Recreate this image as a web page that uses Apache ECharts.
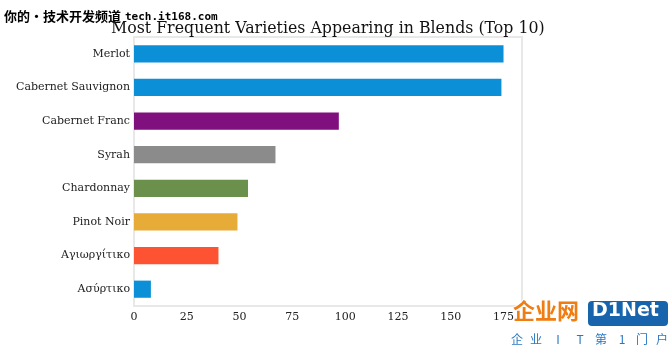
<!DOCTYPE html>
<html>
<head>
<meta charset="utf-8">
<script src="https://cdn.jsdelivr.net/npm/echarts@6/dist/echarts.min.js"></script>
<style>html,body{margin:0;padding:0;background:#fff}#c{width:670px;height:345px}</style>
</head>
<body>
<div id="c"></div>
<script>
const categories = ["Merlot", "Cabernet Sauvignon", "Cabernet Franc", "Syrah", "Chardonnay", "Pinot Noir", "Αγιωργίτικο", "Ασύρτικο"];
const values = [175, 174, 97, 67, 54, 49, 40, 8];
const barColors = ["#0b8fd7", "#0b8fd7", "#80107e", "#8b8b8b", "#6a904c", "#e7ab38", "#fd5333", "#0b8fd7"];
const xTicks = [0, 25, 50, 75, 100, 125, 150, 175];
const title = "Most Frequent Varieties Appearing in Blends (Top 10)";
const footChars = ["企", "业", "I", "T", "第", "1", "门", "户"];

const footX = [517, 536, 558, 580, 601, 622, 642, 662];
const chart = echarts.init(document.getElementById('c'), null, {renderer: 'canvas'});
const graphics = [
  {type: 'text', left: 3, top: 9, style: {text: '你的・技术开发频道', font: 'bold 13px "Noto Sans CJK SC"', fill: '#000', stroke: '#fff', lineWidth: 2}},
  {type: 'text', left: 124, top: 11, style: {text: 'tech.it168.com', font: 'bold 11px "DejaVu Sans Mono"', fill: '#000', stroke: '#fff', lineWidth: 2}},
  {type: 'text', left: 512, top: 299, style: {text: '企业网', font: 'bold 22px "Noto Sans CJK SC"', fill: '#f07d12', stroke: '#fff', lineWidth: 2}},
  {type: 'rect', shape: {x: 588, y: 301, width: 80, height: 25, r: 4}, style: {fill: '#1764ad'}},
  {type: 'text', left: 592, top: 302, style: {text: 'D1Net', font: 'bold 19px "DejaVu Sans"', fill: '#fff'}}
];
footChars.forEach((ch, i) => {
  graphics.push({type: 'text', x: footX[i], y: 339, style: {text: ch, font: '12px "Noto Sans CJK SC"', fill: '#2a78c2', textAlign: 'center', textVerticalAlign: 'middle'}});
});
chart.setOption({
  animation: false,
  title: {
    text: title,
    left: 106, top: 16,
    textStyle: {fontFamily: 'DejaVu Serif', fontSize: 15.8, fontWeight: 'normal', color: '#111'}
  },
  grid: {left: 134, right: 148, top: 37, bottom: 39, show: true, borderColor: '#e8e8e8', borderWidth: 2, containLabel: false},
  xAxis: {
    type: 'value', min: 0, max: 183.75, interval: 25,
    axisLine: {show: false}, axisTick: {show: false}, splitLine: {show: false},
    axisLabel: {
      margin: 6, fontFamily: 'DejaVu Serif', fontSize: 11, color: '#222',
      showMaxLabel: false,
      formatter: v => xTicks.includes(v) ? String(v) : ''
    }
  },
  yAxis: {
    type: 'category', data: categories, inverse: true,
    axisLine: {show: false}, axisTick: {show: false},
    axisLabel: {margin: 4, fontFamily: 'DejaVu Serif', fontSize: 11, color: '#222'}
  },
  series: [{
    type: 'bar', barWidth: '51%',
    data: values.map((v, i) => ({value: v, itemStyle: {color: barColors[i]}}))
  }],
  graphic: graphics
});
</script>
</body>
</html>
